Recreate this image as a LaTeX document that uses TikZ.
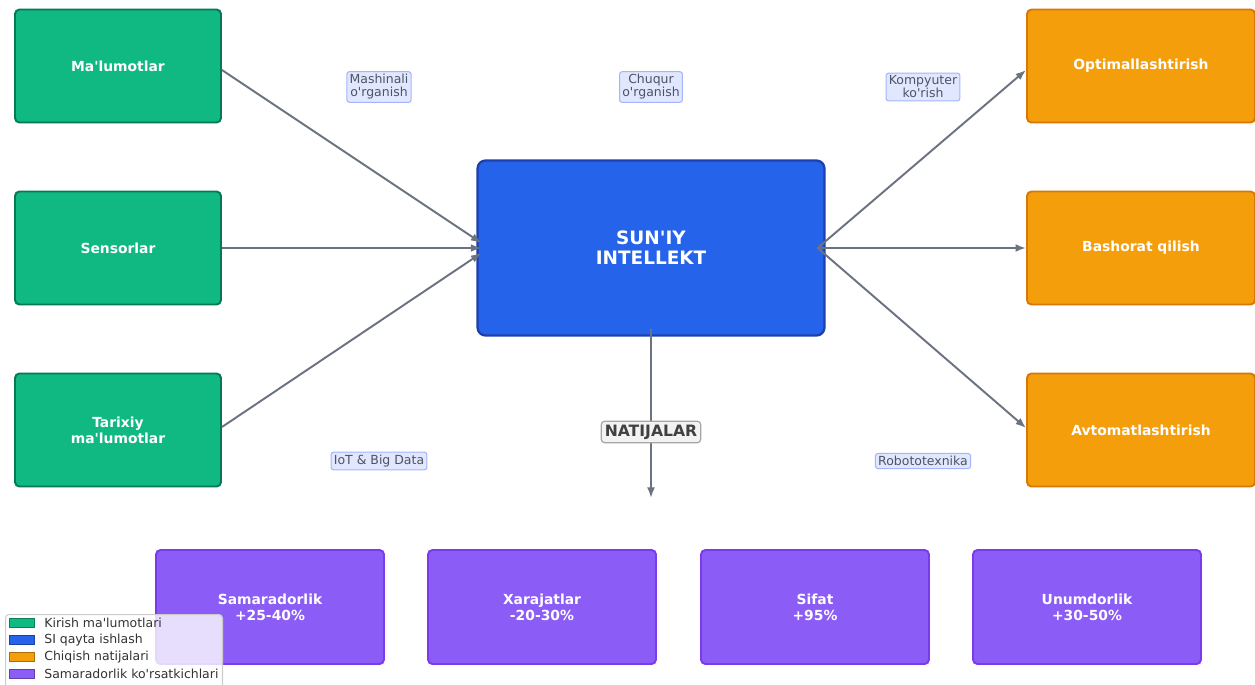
\documentclass[tikz,border=0pt]{standalone}
\usepackage{fontspec}
\setmainfont{DejaVu Sans}[Ligatures=TeXReset]
\usetikzlibrary{arrows.meta}

\definecolor{ingreen}{HTML}{10B981}
\definecolor{ingreenedge}{HTML}{047857}
\definecolor{aiblue}{HTML}{2563EB}
\definecolor{aiblueedge}{HTML}{1E40AF}
\definecolor{outorange}{HTML}{F59E0B}
\definecolor{outorangeedge}{HTML}{D97706}
\definecolor{effpurple}{HTML}{8B5CF6}
\definecolor{effpurpleedge}{HTML}{7C3AED}
\definecolor{arrowgray}{HTML}{6B7280}
\definecolor{tagfill}{HTML}{E0E7FF}
\definecolor{tagedge}{HTML}{A5B4FC}
\definecolor{tagtext}{HTML}{4B5563}

\tikzset{
  inbox/.style={draw=ingreenedge, fill=ingreen, line width=1.1pt, rounded corners=2.5pt,
    minimum width=4.12cm, minimum height=2.26cm, text=white, align=center,
    font=\fontsize{7.9}{8.9}\selectfont\bfseries},
  outbox/.style={inbox, draw=outorangeedge, fill=outorange, minimum width=4.56cm},
  effbox/.style={inbox, draw=effpurpleedge, fill=effpurple, minimum width=4.56cm, minimum height=2.28cm},
  aibox/.style={draw=aiblueedge, fill=aiblue, line width=1.3pt, rounded corners=4.5pt,
    minimum width=6.94cm, minimum height=3.5cm, text=white, align=center,
    font=\fontsize{10.5}{11.3}\selectfont\bfseries},
  tag/.style={draw=tagedge, fill=tagfill, line width=0.6pt, rounded corners=1.5pt,
    text=tagtext, align=center, inner sep=1.6pt, font=\fontsize{7.1}{7.4}\selectfont},
  restag/.style={draw=gray!70, fill=gray!10, line width=0.7pt, rounded corners=2pt,
    text=black!75, inner sep=2pt, font=\fontsize{8.9}{9.5}\selectfont\bfseries},
  flow/.style={draw=arrowgray, line width=1.1pt, -{Latex[length=6pt,width=4.5pt]}},
  legpatch/.style={draw=#1!70!black, fill=#1, line width=0.5pt, minimum width=0.5cm, minimum height=0.18cm, inner sep=0pt},
  legtext/.style={anchor=west, inner sep=0pt, text=black!80, font=\fontsize{7.1}{7.5}\selectfont}
}

\begin{document}
\begin{tikzpicture}[x=0.02cm,y=-0.02cm]
\useasboundingbox (0,0) rectangle (1255,684);

% input data
\node[inbox] (data) at (118,66) {Ma'lumotlar};
\node[inbox] (sensors) at (118,248) {Sensorlar};
\node[inbox] (history) at (118,430) {Tarixiy\\ma'lumotlar};

% AI core
\node[aibox] (ai) at (651,248) {SUN'IY\\INTELLEKT};

% outputs
\node[outbox] (optim) at (1141,66) {Optimallashtirish};
\node[outbox] (predict) at (1141,248) {Bashorat qilish};
\node[outbox] (auto) at (1141,430) {Avtomatlashtirish};

% results
\node[effbox] (eff) at (270,607) {Samaradorlik\\+25-40\%};
\node[effbox] (cost) at (542,607) {Xarajatlar\\-20-30\%};
\node[effbox] (quality) at (815,607) {Sifat\\+95\%};
\node[effbox] (prod) at (1087,607) {Unumdorlik\\+30-50\%};

% arrows in
\draw[flow] ([yshift=-0.08cm]data.east) -- ([yshift=0.1cm,xshift=0.1cm]ai.west);
\draw[flow] (sensors.east) -- ([xshift=0.1cm]ai.west);
\draw[flow] ([yshift=0.06cm]history.east) -- ([yshift=-0.1cm,xshift=0.1cm]ai.west);

% arrows out
\coordinate (aiout) at ([xshift=-0.16cm]ai.east);
\draw[flow] (aiout) -- ([yshift=-0.08cm]optim.west);
\draw[flow] (aiout) -- (predict.west);
\draw[flow] (aiout) -- ([yshift=0.04cm]auto.west);

% down to results
\coordinate (aidown) at ([yshift=0.16cm]ai.south);
\coordinate (resend) at (651,498);
\draw[flow] (aidown) -- (resend) node[restag, pos=0.61] (res) {NATIJALAR};

% technology tags
\node[tag] (ml) at (379,87) {Mashinali\\o'rganish};
\node[tag] (dl) at (651,87) {Chuqur\\o'rganish};
\node[tag] (cv) at (923,87) {Kompyuter\\ko'rish};
\node[tag] (iot) at (379,461) {IoT \& Big Data};
\node[tag] (robot) at (923,461) {Robototexnika};

% legend
\node[draw=black!20, fill=white, fill opacity=0.8, rounded corners=2pt, line width=0.6pt,
  minimum width=4.34cm, minimum height=1.5cm, anchor=north west] (legend) at (5,614) {};
\node[legpatch=ingreen] (lg1) at (21.5,623) {};
\node[legpatch=aiblue] (lg2) at (21.5,640) {};
\node[legpatch=outorange] (lg3) at (21.5,657) {};
\node[legpatch=effpurple] (lg4) at (21.5,674) {};
\node[legtext] (lt1) at (44,623) {Kirish ma'lumotlari};
\node[legtext] (lt2) at (44,640) {SI qayta ishlash};
\node[legtext] (lt3) at (44,657) {Chiqish natijalari};
\node[legtext] (lt4) at (44,674) {Samaradorlik ko'rsatkichlari};
\end{tikzpicture}
\end{document}
